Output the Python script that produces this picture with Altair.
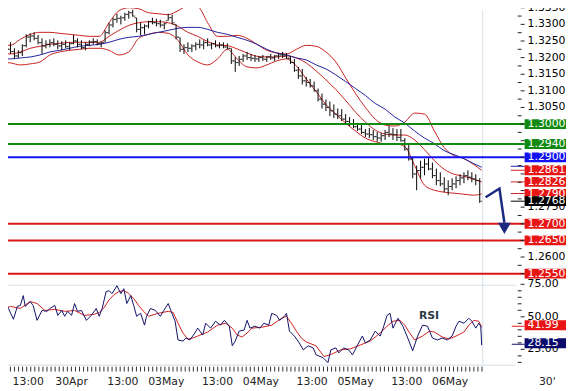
import altair as alt
import pandas as pd
import numpy as np

FONT = "DejaVu Sans"

# ---------------- data ----------------
# time axis: half-hour bar index counted from 29 Apr 06:00 (weekend removed); one OHLC bar per hour
bar_t = [2 * i + 1 for i in range(122)]
bar_open = [1.3230,1.3215,1.3225,1.3218,1.3205,1.3215,1.3236,1.3262,1.3265,1.3258,
1.3245,1.3235,1.3240,1.3245,1.3240,1.3235,1.3240,1.3233,1.3242,1.3250,
1.3240,1.3230,1.3240,1.3247,1.3248,1.3242,1.3246,1.3275,1.3298,1.3315,
1.3318,1.3320,1.3330,1.3335,1.3320,1.3285,1.3290,1.3295,1.3308,1.3305,
1.3302,1.3298,1.3311,1.3320,1.3300,1.3261,1.3225,1.3230,1.3228,1.3235,
1.3240,1.3238,1.3245,1.3238,1.3242,1.3236,1.3238,1.3232,1.3228,1.3190,
1.3185,1.3195,1.3205,1.3200,1.3198,1.3196,1.3200,1.3195,1.3202,1.3199,
1.3205,1.3208,1.3205,1.3198,1.3185,1.3162,1.3145,1.3130,1.3125,1.3115,
1.3100,1.3075,1.3060,1.3050,1.3040,1.3030,1.3025,1.3015,1.3008,1.3000,
1.2992,1.2985,1.2975,1.2970,1.2968,1.2962,1.2958,1.2965,1.2975,1.2970,
1.2968,1.2960,1.2950,1.2925,1.2895,1.2850,1.2860,1.2870,1.2880,1.2865,
1.2845,1.2830,1.2820,1.2805,1.2812,1.2820,1.2830,1.2838,1.2845,1.2840,
1.2835,1.2830]
bar_high = [1.3237,1.3231,1.3246,1.3228,1.3222,1.3240,1.3270,1.3273,1.3276,1.3268,
1.3258,1.3252,1.3255,1.3258,1.3252,1.3249,1.3252,1.3246,1.3268,1.3258,
1.3252,1.3246,1.3252,1.3258,1.3255,1.3249,1.3282,1.3305,1.3320,1.3332,
1.3326,1.3335,1.3341,1.3344,1.3320,1.3305,1.3300,1.3311,1.3320,1.3317,
1.3314,1.3305,1.3332,1.3329,1.3300,1.3261,1.3240,1.3246,1.3240,1.3246,
1.3255,1.3252,1.3258,1.3246,1.3252,1.3246,1.3246,1.3243,1.3228,1.3202,
1.3205,1.3211,1.3217,1.3211,1.3208,1.3205,1.3208,1.3205,1.3211,1.3208,
1.3214,1.3217,1.3214,1.3205,1.3196,1.3172,1.3166,1.3142,1.3136,1.3128,
1.3107,1.3092,1.3074,1.3068,1.3059,1.3047,1.3045,1.3030,1.3021,1.3015,
1.3003,1.2997,1.2985,1.2988,1.2982,1.2976,1.2973,1.2982,1.2994,1.2988,
1.2985,1.2985,1.2958,1.2938,1.2902,1.2875,1.2890,1.2896,1.2899,1.2884,
1.2866,1.2855,1.2840,1.2831,1.2837,1.2843,1.2849,1.2855,1.2861,1.2855,
1.2849,1.2837]
bar_low = [1.3208,1.3202,1.3211,1.3196,1.3199,1.3205,1.3231,1.3246,1.3252,1.3240,
1.3211,1.3228,1.3231,1.3234,1.3225,1.3222,1.3228,1.3222,1.3240,1.3231,
1.3225,1.3222,1.3234,1.3240,1.3237,1.3231,1.3246,1.3270,1.3291,1.3305,
1.3300,1.3311,1.3317,1.3323,1.3276,1.3267,1.3270,1.3288,1.3300,1.3294,
1.3291,1.3285,1.3311,1.3300,1.3255,1.3217,1.3211,1.3217,1.3217,1.3222,
1.3228,1.3225,1.3234,1.3225,1.3231,1.3228,1.3228,1.3225,1.3181,1.3157,
1.3175,1.3187,1.3193,1.3190,1.3187,1.3187,1.3190,1.3187,1.3193,1.3190,
1.3196,1.3199,1.3196,1.3181,1.3157,1.3136,1.3119,1.3113,1.3110,1.3098,
1.3068,1.3047,1.3039,1.3024,1.3018,1.3015,1.3009,1.3003,1.2994,1.2988,
1.2979,1.2970,1.2961,1.2958,1.2952,1.2947,1.2947,1.2952,1.2961,1.2952,
1.2949,1.2947,1.2920,1.2890,1.2837,1.2801,1.2837,1.2846,1.2861,1.2837,
1.2816,1.2813,1.2795,1.2786,1.2801,1.2807,1.2816,1.2822,1.2831,1.2825,
1.2816,1.2763]
bar_close = [1.3215,1.3225,1.3218,1.3205,1.3215,1.3236,1.3262,1.3265,1.3258,1.3245,
1.3235,1.3240,1.3245,1.3240,1.3235,1.3240,1.3233,1.3242,1.3250,1.3240,
1.3230,1.3240,1.3247,1.3248,1.3242,1.3245,1.3275,1.3298,1.3315,1.3318,
1.3320,1.3330,1.3335,1.3325,1.3285,1.3290,1.3295,1.3308,1.3305,1.3302,
1.3298,1.3302,1.3320,1.3305,1.3262,1.3225,1.3230,1.3228,1.3235,1.3240,
1.3238,1.3245,1.3238,1.3242,1.3236,1.3238,1.3232,1.3228,1.3190,1.3185,
1.3195,1.3205,1.3200,1.3198,1.3196,1.3200,1.3195,1.3202,1.3199,1.3205,
1.3208,1.3205,1.3198,1.3185,1.3162,1.3145,1.3130,1.3125,1.3115,1.3100,
1.3075,1.3060,1.3050,1.3040,1.3030,1.3025,1.3015,1.3008,1.3000,1.2992,
1.2985,1.2975,1.2970,1.2968,1.2962,1.2958,1.2965,1.2975,1.2970,1.2968,
1.2960,1.2950,1.2925,1.2895,1.2850,1.2860,1.2870,1.2880,1.2865,1.2845,
1.2830,1.2820,1.2805,1.2812,1.2820,1.2830,1.2838,1.2845,1.2840,1.2835,
1.2830,1.2768]

band_t = list(range(0, 245, 5)) + [244]
bb_upper = [1.3237,1.3237,1.3255,1.3270,1.3276,1.3276,1.3273,1.3270,1.3267,1.3264,
1.3264,1.3305,1.3341,1.3350,1.3347,1.3335,1.3332,1.3329,1.3341,1.3356,
1.3353,1.3305,1.3264,1.3264,1.3267,1.3258,1.3240,1.3222,1.3214,1.3211,
1.3225,1.3237,1.3234,1.3217,1.3187,1.3139,1.3092,1.3050,1.3015,1.2997,
1.2994,1.3006,1.3033,1.3030,1.2979,1.2929,1.2905,1.2896,1.2878,1.2861]
bb_mid = [1.3211,1.3211,1.3217,1.3228,1.3234,1.3240,1.3243,1.3246,1.3246,1.3246,
1.3246,1.3264,1.3282,1.3297,1.3305,1.3308,1.3308,1.3305,1.3294,1.3276,
1.3264,1.3248,1.3238,1.3236,1.3226,1.3214,1.3204,1.3202,1.3202,1.3205,
1.3199,1.3184,1.3160,1.3133,1.3104,1.3071,1.3036,1.3006,1.2982,1.2970,
1.2967,1.2967,1.2952,1.2923,1.2890,1.2864,1.2849,1.2843,1.2834,1.2826]
bb_lower = [1.3187,1.3184,1.3178,1.3181,1.3187,1.3208,1.3217,1.3222,1.3225,1.3228,
1.3228,1.3222,1.3208,1.3217,1.3258,1.3270,1.3276,1.3273,1.3252,1.3208,
1.3187,1.3178,1.3196,1.3225,1.3196,1.3172,1.3169,1.3178,1.3190,1.3196,
1.3175,1.3136,1.3098,1.3059,1.3030,1.3003,1.2979,1.2958,1.2947,1.2941,
1.2941,1.2932,1.2875,1.2816,1.2801,1.2795,1.2792,1.2789,1.2786,1.2790]
ma_blue = [1.3196,1.3196,1.3199,1.3202,1.3208,1.3217,1.3222,1.3228,1.3234,1.3237,
1.3240,1.3246,1.3255,1.3261,1.3264,1.3270,1.3276,1.3282,1.3288,1.3291,
1.3291,1.3285,1.3276,1.3270,1.3261,1.3252,1.3240,1.3225,1.3214,1.3208,
1.3199,1.3193,1.3178,1.3166,1.3148,1.3128,1.3107,1.3086,1.3062,1.3045,
1.3021,1.3003,1.2979,1.2958,1.2941,1.2920,1.2908,1.2896,1.2881,1.2870]

rsi_t = [1,2.5,4,6.5,8.5,10,11.5,12.5,15,16.5,18.5,21,23.5,25,27.5,29,31,32.5,34,36,
37.5,39,41,43.5,46,48.5,50,51.5,53.5,55,56.5,59,61,62.5,64,66,67.5,69,71,73,
74,76,78.5,81,82.5,85,86.5,88.5,90,92.5,94,96,98.5,100,102.5,104,106.5,109,111.5,113.5,
116,117.5,119,121,123.5,125,126.5,129,131.5,133.5,136,137.5,140,141.5,144,145,146.5,149,151.5,153.5,
156,158.5,160,163.5,166,167.5,170,171.5,174,176.5,178.5,181,183.5,185,187.5,190,192.5,194,196,197.5,
199,201.5,204,206.5,209,211.5,214,216.5,219,221.5,224,226.5,229,231,232.5,235,237.5,239,241,242.5,
243.5,244]
rsi_val = [54.9,61.7,56.4,48.1,58.0,58.7,66.3,58.0,61.7,58.7,
47.3,54.9,54.2,56.4,58.7,51.1,54.9,50.4,54.2,51.1,
60.2,54.2,54.9,47.3,51.1,56.4,50.4,56.4,69.3,70.1,
67.8,73.9,67.8,71.6,60.2,66.3,58.7,50.4,52.7,43.6,
50.4,56.4,54.9,50.4,54.2,60.2,54.2,46.6,32.2,31.4,
33.7,32.2,37.5,41.3,36.0,45.1,41.3,46.6,43.6,47.3,
42.8,27.7,31.4,39.0,39.8,47.3,41.3,42.8,41.3,45.1,
43.6,52.7,51.1,47.3,50.4,52.7,39.0,35.2,29.9,24.6,
27.7,26.1,20.8,18.6,14.8,24.6,26.1,22.3,26.1,24.6,
20.8,28.4,35.2,29.9,32.2,39.0,35.2,41.3,51.1,52.7,
41.3,48.9,42.8,33.7,23.9,35.2,43.6,42.8,33.7,32.2,
33.7,32.2,35.2,42.8,46.6,45.1,48.9,46.6,41.3,45.1,
42.8,28.15]
sig_t = [1,5,10,15,18.5,22.5,27.5,32.5,37.5,42.5,47.5,50,52.5,55,57.5,60,62.5,65,67.5,70,
72.5,75,80,85,87.5,90,92.5,95,97.5,100,105,110,114,117.5,120,122.5,125,127.5,132.5,137.5,
142.5,145,147.5,150,152.5,155,160,164,167.5,172.5,177.5,182.5,187.5,192.5,196,199,202.5,205,207.5,210,
214,217.5,220,224,227.5,231,235,237.5,240,242.5,244]
sig_val = [55.7,58.0,56.4,61.7,60.2,54.9,55.7,54.2,54.9,51.1,51.9,53.4,57.0,63.0,67.0,69.3,70.1,68.0,64.0,58.7,
54.2,50.4,52.7,54.2,53.4,45.1,37.5,32.9,33.7,35.2,38.3,43.6,45.1,41.3,36.0,34.5,37.5,41.3,42.0,43.6,
48.9,50.4,45.1,39.0,33.7,30.7,27.7,19.5,21.0,24.6,25.4,28.4,31.4,37.5,42.8,46.6,47.3,43.6,37.5,32.2,
35.2,39.0,38.3,34.5,33.0,35.2,38.3,43.6,47.3,46.6,41.99]

GREEN, BLUE, RED, BLACK, NAVY = "#128a12", "#1212f2", "#e81515", "#000000", "#0b0b6e"
levels = [1.3000, 1.2940, 1.2900, 1.2700, 1.2650, 1.2550]
level_colors = [GREEN, GREEN, BLUE, "#d81818", "#d81818", "#d81818"]

ind_vals = [1.2873, 1.2861, 1.2826, 1.2791, 1.2768]
ind_colors = ["#2020b0", "#d02020", "#d02020", "#d02020", BLACK]

box_vals = [1.3000, 1.2940, 1.2900, 1.2790, 1.2826, 1.2861, 1.2700, 1.2650, 1.2550]
box_colors = [GREEN, GREEN, BLUE, RED, RED, RED, RED, RED, RED]
close_box = 1.2768

price_ticks = [1.3350, 1.3300, 1.3250, 1.3200, 1.3150, 1.3100, 1.3050, 1.3000, 1.2950,
               1.2900, 1.2850, 1.2800, 1.2750, 1.2700, 1.2650, 1.2600, 1.2550]
# axis labels that are not hidden behind a level box
price_labels = [1.3350, 1.3300, 1.3250, 1.3200, 1.3150, 1.3100, 1.3050, 1.2750, 1.2600]
rsi_ticks = [75, 50, 25]
rsi_minor = [70, 65, 60, 55, 45, 40, 35, 30, 20, 15]
rsi_boxes = [41.99, 28.15]
rsi_box_colors = [RED, NAVY]

time_label_t = [14, 36, 62, 84, 110, 132, 158, 180, 206, 228]
time_labels = ["13:00", "30Apr", "13:00", "03May", "13:00", "04May", "13:00", "05May", "13:00", "06May"]

arrow_t = [246, 253, 255.5]
arrow_p = [1.2780, 1.2806, 1.2703]
head_t, head_p = [255.5], [1.2686]

# ---------------- scales ----------------
xsc = alt.Scale(domain=[3.75, 286.75], nice=False, zero=False)
ysP = alt.Scale(domain=[1.22703, 1.33411], nice=False, zero=False)
ysR = alt.Scale(domain=[11.74, 285.23], nice=False, zero=False)


def X(f):
    return alt.X(f, type="quantitative", scale=xsc, axis=None)


def YP(f):
    return alt.Y(f, type="quantitative", scale=ysP, axis=None)


def YR(f):
    return alt.Y(f, type="quantitative", scale=ysR, axis=None)


one = pd.DataFrame({"k": [0]})
bars_df = pd.DataFrame({"t": bar_t, "o": bar_open, "h": bar_high, "l": bar_low, "c": bar_close})
band_df = pd.DataFrame({"t": band_t, "up": bb_upper, "mid": bb_mid, "lo": bb_lower, "ma": ma_blue})
lev_df = pd.DataFrame({"v": levels, "col": level_colors})
ind_df = pd.DataFrame({"v": ind_vals, "col": ind_colors})
box_df = pd.DataFrame({"v": box_vals, "col": box_colors, "s": [f"{v:.4f}" for v in box_vals]})
cbox_df = pd.DataFrame({"v": [close_box], "col": [BLACK], "s": [f"{close_box:.4f}"]})
pt_df = pd.DataFrame({"v": price_ticks})
pl_df = pd.DataFrame({"v": price_labels, "s": [f"{v:.4f}" for v in price_labels]})
pminor_df = pd.DataFrame({"v": [v - 0.0025 for v in price_ticks[:-1]]})
arrow_df = pd.DataFrame({"t": arrow_t, "p": arrow_p})
head_df = pd.DataFrame({"t": head_t, "p": head_p})

rsi_df = pd.DataFrame({"t": rsi_t, "r": rsi_val})
sig_df = pd.DataFrame({"t": sig_t, "r": sig_val})
rt_df = pd.DataFrame({"v": rsi_ticks, "s": [f"{v:.2f}" for v in rsi_ticks]})
rminor_df = pd.DataFrame({"v": rsi_minor})
rbox_df = pd.DataFrame({"v": rsi_boxes, "col": rsi_box_colors, "s": [f"{v:.2f}" for v in rsi_boxes]})
tick_df = pd.DataFrame({"t": np.linspace(0.85, 244.15, 119)})
tlab_df = pd.DataFrame({"t": time_label_t, "s": time_labels})

GRID = "#d6dee8"


def band(field, color):
    return alt.Chart(band_df).mark_line(color=color, strokeWidth=1, interpolate="monotone").encode(
        x=X("t"), y=YP(field))


def txt(df, yenc, color, **kw):
    return alt.Chart(df).mark_text(font=FONT, fontSize=11, align="left", baseline="middle",
                                   color=color, **kw).encode(x=alt.value(527), y=yenc, text="s")


# ---------------- price panel ----------------
price_layers = [
    band("up", "#c82020"), band("mid", "#c82020"), band("lo", "#c82020"), band("ma", "#1f22a0"),
    alt.Chart(bars_df).mark_rule(color="black", strokeWidth=1).encode(x=X("t"), y=YP("l"), y2=alt.Y2("h")),
    alt.Chart(bars_df).mark_tick(orient="horizontal", size=2, thickness=1, color="black", xOffset=-1.5).encode(
        x=X("t"), y=YP("o")),
    alt.Chart(bars_df).mark_tick(orient="horizontal", size=2, thickness=1, color="black", xOffset=1.5).encode(
        x=X("t"), y=YP("c")),
    alt.Chart(lev_df).mark_rule(strokeWidth=2).encode(
        x=alt.value(0), x2=alt.value(524), y=YP("v"), color=alt.Color("col", scale=None)),
    alt.Chart(ind_df).mark_rule(strokeWidth=1).encode(
        x=alt.value(510), x2=alt.value(524), y=YP("v"), color=alt.Color("col", scale=None)),
    alt.Chart(pminor_df).mark_rule(color="#222", strokeWidth=1).encode(
        x=alt.value(517), x2=alt.value(521), y=YP("v")),
    alt.Chart(pt_df).mark_rule(color="#222", strokeWidth=1).encode(
        x=alt.value(520), x2=alt.value(524), y=YP("v")),
    txt(pl_df, YP("v"), "black"),
    alt.Chart(box_df).mark_rule(strokeWidth=10).encode(
        x=alt.value(524), x2=alt.value(566), y=YP("v"), color=alt.Color("col", scale=None)),
    txt(box_df, YP("v"), "white"),
    alt.Chart(cbox_df).mark_rule(strokeWidth=10).encode(
        x=alt.value(524), x2=alt.value(566), y=YP("v"), color=alt.Color("col", scale=None)),
    txt(cbox_df, YP("v"), "white"),
    alt.Chart(arrow_df).mark_line(color="#1b2a80", strokeWidth=2.5).encode(x=X("t"), y=YP("p")),
    alt.Chart(head_df).mark_point(shape="triangle-down", filled=True, size=170, color="#1b2a80", opacity=1).encode(
        x=X("t"), y=YP("p")),
]
price_group = alt.layer(*price_layers)

# ---------------- RSI panel ----------------
rsi_layers = [
    alt.Chart(sig_df).mark_line(color="#d02020", strokeWidth=1).encode(x=X("t"), y=YR("r")),
    alt.Chart(rsi_df).mark_line(color="#101068", strokeWidth=1).encode(x=X("t"), y=YR("r")),
    alt.Chart(rminor_df).mark_rule(color="#222", strokeWidth=1).encode(
        x=alt.value(517), x2=alt.value(521), y=YR("v")),
    alt.Chart(rt_df).mark_rule(color="#222", strokeWidth=1).encode(
        x=alt.value(520), x2=alt.value(524), y=YR("v")),
    txt(rt_df, YR("v"), "black"),
    alt.Chart(rbox_df).mark_rule(strokeWidth=1, yOffset=-1).encode(
        x=alt.value(511), x2=alt.value(524), y=YR("v"), color=alt.Color("col", scale=None)),
    alt.Chart(rbox_df).mark_rule(strokeWidth=10, yOffset=-2).encode(
        x=alt.value(524), x2=alt.value(566), y=YR("v"), color=alt.Color("col", scale=None)),
    txt(rbox_df, YR("v"), "white", yOffset=-2),
]
rsi_group = alt.layer(*rsi_layers)

# ---------------- frame, time axis, captions ----------------
misc_layers = [
    alt.Chart(one).mark_rule(color=GRID, strokeWidth=1).encode(
        x=alt.value(0), x2=alt.value(515), y=alt.value(278.5)),
    alt.Chart(one).mark_rule(color=GRID, strokeWidth=1).encode(
        x=alt.value(0), x2=alt.value(515), y=alt.value(359.5)),
    alt.Chart(one).mark_rule(color=GRID, strokeWidth=1).encode(
        x=alt.value(481.5), y=alt.value(0), y2=alt.value(359)),
    alt.Chart(tick_df).mark_rule(color="#333", strokeWidth=1).encode(
        x=X("t"), y=alt.value(361), y2=alt.value(366)),
    alt.Chart(tlab_df).mark_text(font=FONT, fontSize=11, align="center", baseline="middle", color="#222").encode(
        x=X("t"), y=alt.value(377), text="s"),
    alt.Chart(one).mark_text(font=FONT, fontSize=11, align="center", baseline="middle", color="#222",
                             text="30'").encode(x=alt.value(547), y=alt.value(377)),
    alt.Chart(one).mark_text(font=FONT, fontSize=11, fontWeight="bold", align="center", baseline="middle",
                             color="#2d3a44", text="RSI").encode(x=alt.value(427), y=alt.value(310)),
]
misc_group = alt.layer(*misc_layers)

chart = alt.layer(misc_group, price_group, rsi_group).resolve_scale(y="independent").properties(
    width=566, height=361,
    autosize=alt.AutoSizeParams(type="none"),
    padding={"left": 0, "top": 0, "right": 0, "bottom": 22},
    background="white",
).configure_view(strokeWidth=0)

chart.save("out.html", embed_options={"renderer": "svg", "actions": False})
